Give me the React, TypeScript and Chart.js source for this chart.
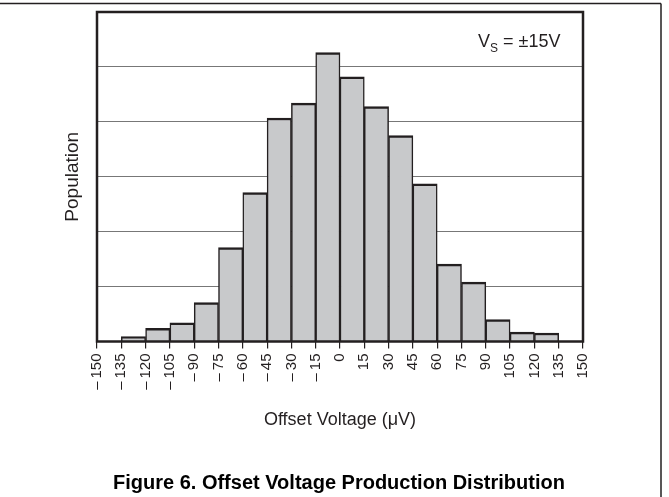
import React, { useEffect, useRef } from "react";
import { Chart, registerables } from "chart.js";

Chart.register(...registerables);

// Histogram bins (left edges, µV) and bar heights (in grid divisions)
const binStarts = [-135, -120, -105, -90, -75, -60, -45, -30, -15, 0, 15, 30, 45, 60, 75, 90, 105, 120];
const binWidth = 15;
const population = [0.09, 0.24, 0.34, 0.71, 1.71, 2.71, 4.07, 4.34, 5.26, 4.82, 4.28, 3.75, 2.87, 1.41, 1.08, 0.4, 0.17, 0.155];

const xMin = -150;
const xMax = 150;
const xStep = 15;
const yMax = 6;

const xTitle = "Offset Voltage (\u03bcV)";
const yTitle = "Population";
const caption = "Figure 6. Offset Voltage Production Distribution";

const FONT = "'Liberation Sans', Arial, Helvetica, sans-serif";
const NARROW = "'Liberation Sans Narrow', 'Arial Narrow', 'Liberation Sans', Arial, sans-serif";

const decorPlugin = {
  id: "decor",
  afterDraw(chart: any) {
    const { ctx, chartArea } = chart;
    ctx.save();
    // page frame lines (top and right)
    ctx.strokeStyle = "#231f20";
    ctx.lineWidth = 1.5;
    ctx.beginPath();
    ctx.moveTo(0, 3.5);
    ctx.lineTo(661, 3.5);
    ctx.moveTo(661, 3.5);
    ctx.lineTo(661, 497);
    ctx.stroke();

    // plot border
    ctx.lineWidth = 2.5;
    ctx.strokeStyle = "#231f20";
    ctx.strokeRect(
      chartArea.left,
      chartArea.top,
      chartArea.right - chartArea.left,
      chartArea.bottom - chartArea.top
    );

    // V_S annotation
    ctx.fillStyle = "#231f20";
    ctx.textBaseline = "alphabetic";
    ctx.textAlign = "left";
    let x = 478;
    const base = 46.5;
    ctx.font = `18px ${FONT}`;
    ctx.fillText("V", x, base);
    x += ctx.measureText("V").width;
    ctx.font = `12px ${FONT}`;
    ctx.fillText("S", x, base + 5);
    x += ctx.measureText("S").width;
    ctx.font = `18px ${FONT}`;
    ctx.fillText(" = \u00b115V", x, base);

    // caption
    ctx.font = `bold 20px ${FONT}`;
    ctx.fillStyle = "#000";
    ctx.fillText(caption, 113, 489);
    ctx.restore();
  },
};

export default function App() {
  const canvasRef = useRef<HTMLCanvasElement | null>(null);

  useEffect(() => {
    if (!canvasRef.current) return;
    const data = binStarts.map((s, i) => ({ x: s + binWidth / 2, y: population[i] }));
    const chart = new Chart(canvasRef.current, {
      type: "bar",
      data: {
        datasets: [
          {
            data: data as any,
            backgroundColor: "#c8c9cb",
            borderColor: "#231f20",
            borderWidth: { top: 2.5, left: 1.5, right: 1.5, bottom: 0 } as any,
            borderSkipped: "bottom",
            barPercentage: 1,
            categoryPercentage: 1,
          },
        ],
      },
      options: {
        animation: false,
        responsive: false,
        events: [],
        layout: { padding: { left: 0, right: 86, top: 12, bottom: 66.2 } },
        plugins: {
          legend: { display: false },
          tooltip: { enabled: false },
        },
        scales: {
          x: {
            type: "linear",
            offset: false,
            min: xMin,
            max: xMax,
            afterFit: (scale: any) => {
              scale.height = 89.3;
            },
            border: { display: false },
            grid: {
              display: true,
              offset: false,
              drawOnChartArea: false,
              drawTicks: true,
              tickLength: 7,
              color: "#231f20",
              lineWidth: 1.2,
            },
            ticks: {
              stepSize: xStep,
              autoSkip: false,
              maxRotation: 90,
              minRotation: 90,
              padding: 5,
              color: "#231f20",
              font: { family: NARROW, size: 15 },
              callback: (v: any) =>
                Number(v) < 0 ? "\u2013\u2009" + Math.abs(Number(v)) : String(v),
            },
            title: {
              display: true,
              text: xTitle,
              color: "#231f20",
              font: { family: FONT, size: 18 },
              padding: { top: 0, bottom: 0 },
            },
          },
          y: {
            type: "linear",
            min: 0,
            max: yMax,
            afterFit: (scale: any) => {
              scale.width = 97;
            },
            border: { display: false },
            grid: {
              color: "#777777",
              lineWidth: 1,
              drawTicks: false,
            },
            ticks: { display: false, stepSize: 1 },
            title: {
              display: true,
              text: yTitle,
              color: "#231f20",
              font: { family: FONT, size: 19 },
              padding: { top: 61, bottom: 0 },
            },
          },
        },
      },
      plugins: [decorPlugin],
    });
    return () => chart.destroy();
  }, []);

  return (
    <div style={{ position: "fixed", left: 0, top: 0, width: 669, height: 497, background: "#fff" }}>
      <canvas ref={canvasRef} width={669} height={497} style={{ display: "block" }} />
    </div>
  );
}
